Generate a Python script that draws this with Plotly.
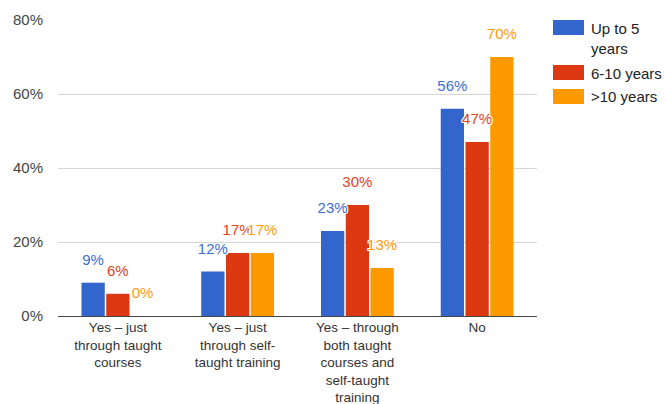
import plotly.graph_objects as go

# Survey answers grouped by years of experience
categories = [
    "Yes – just<br>through taught<br>courses",
    "Yes – just<br>through self-<br>taught training",
    "Yes – through<br>both taught<br>courses and<br>self-taught<br>training",
    "No",
]
series_names = ["Up to 5<br>years", "6-10 years", ">10 years"]
up_to_5 = [9, 12, 23, 56]
six_to_ten = [6, 17, 30, 47]
over_ten = [0, 17, 13, 70]
series_values = [up_to_5, six_to_ten, over_ten]

bar_colors = ["#3366cc", "#dc3912", "#ff9900"]
label_colors = ["#3d6dd4", "#e0431f", "#ff9a0d"]

y_ticks = [0, 20, 40, 60, 80]
y_tick_labels = ["0%", "20%", "40%", "60%", "80%"]

FONT = "Liberation Sans, Arial, sans-serif"
W, H = 664, 404
M_L, M_R, M_T, M_B = 58, 127, 20, 88
PLOT_W = W - M_L - M_R
PLOT_H = H - M_T - M_B

halo = "1px 0 0 #fff, -1px 0 0 #fff, 0 1px 0 #fff, 0 -1px 0 #fff, 1px 1px 0 #fff, -1px -1px 0 #fff, 1px -1px 0 #fff, -1px 1px 0 #fff"

fig = go.Figure()
for i, vals in enumerate(series_values):
    fig.add_trace(go.Bar(
        x=categories, y=vals, name=series_names[i],
        marker=dict(color=bar_colors[i], line=dict(width=0)),
        offsetgroup=str(i), showlegend=False, hoverinfo="skip",
    ))
# value labels floating above each bar
for i, vals in enumerate(series_values):
    fig.add_trace(go.Scatter(
        x=categories, y=vals, mode="markers+text",
        text=[f"{v}%" for v in vals], textposition="top center",
        textfont=dict(family=FONT, size=15, color=label_colors[i], shadow=halo),
        marker=dict(size=21, opacity=0),
        offsetgroup=str(i), showlegend=False, hoverinfo="skip", cliponaxis=False,
    ))


def px_x(x):
    return (x - M_L) / PLOT_W


def px_y(y):
    return (M_T + PLOT_H - y) / PLOT_H


# legend: coloured swatches with labels to the right of the plot
legend_rows = [(20, 38), (65, 73), (89, 97)]
shapes = []
annotations = []
for i, (sw_top, text_mid) in enumerate(legend_rows):
    shapes.append(dict(
        type="rect", xref="paper", yref="paper",
        x0=px_x(553), x1=px_x(584), y0=px_y(sw_top), y1=px_y(sw_top + 15),
        fillcolor=bar_colors[i], line=dict(width=0),
    ))
    annotations.append(dict(
        xref="paper", yref="paper", x=px_x(589), y=px_y(text_mid),
        xanchor="left", yanchor="middle", align="left", showarrow=False,
        text=series_names[i], font=dict(family=FONT, size=15, color="#222222"),
    ))

fig.update_layout(
    width=W, height=H,
    margin=dict(l=M_L, r=M_R, t=M_T, b=M_B, pad=0, autoexpand=False),
    paper_bgcolor="white", plot_bgcolor="white",
    barmode="group", bargap=0.38, bargroupgap=0.06,
    scattermode="group", scattergap=0.38,
    font=dict(family=FONT, size=14, color="#444444"),
    shapes=shapes, annotations=annotations,
    xaxis=dict(
        showgrid=False, showline=True, linecolor="#444444", linewidth=1,
        ticks="", tickfont=dict(size=13.5, color="#333333"), fixedrange=True,
        automargin=False, ticklabelstandoff=-1,
    ),
    yaxis=dict(
        range=[0, 80], tickvals=y_ticks, ticktext=y_tick_labels,
        showgrid=True, gridcolor="#d6d6d6", gridwidth=1, zeroline=False,
        ticks="", ticklabelstandoff=14, tickfont=dict(size=15, color="#444444"),
        fixedrange=True, automargin=False,
    ),
)

fig.write_html("out.html", config={"displayModeBar": False})
